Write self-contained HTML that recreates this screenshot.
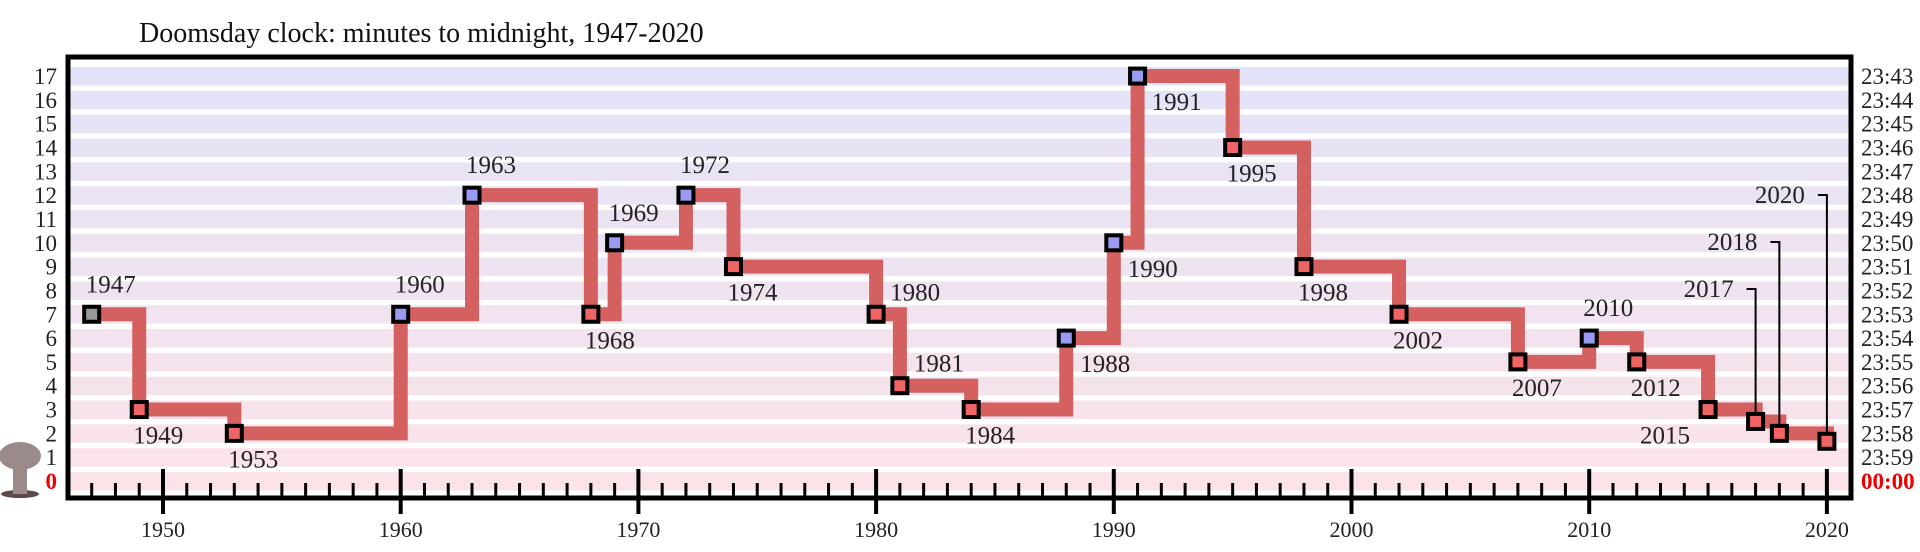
<!DOCTYPE html>
<html><head><meta charset="utf-8"><style>
body{margin:0;background:#fff;}
svg{display:block;font-family:"Liberation Serif",serif;}
</style></head><body>
<svg id="chart" width="1920" height="552" viewBox="0 0 1920 552" xmlns="http://www.w3.org/2000/svg">
<text x="139" y="42" font-size="28" fill="#111">Doomsday clock: minutes to midnight, 1947-2020</text>
<g id="stripes"></g>
<g id="ticks"></g>
<g id="series"></g>
<g id="labels"></g>
<rect x="68" y="57" width="1783" height="441" fill="none" stroke="#000" stroke-width="5"/>
<g>
<ellipse cx="20" cy="494" rx="19" ry="4" fill="#5a4a4a"/>
<rect x="13" y="458" width="14" height="36" fill="#9a8a8a"/>
<ellipse cx="20" cy="456" rx="21" ry="14" fill="#9a8a8a"/>
</g>
</svg>
<script>
const years = [1947,1949,1953,1960,1963,1968,1969,1972,1974,1980,1981,1984,1988,1990,1991,1995,1998,2002,2007,2010,2012,2015,2017,2018,2020];
const minutes = [7,3,2,7,12,7,10,12,9,7,4,3,6,10,17,14,9,7,5,6,5,3,2.5,2,1.667];
const labelPos = ['a','b','b','a','a','b','a','a','b','ar','ar','b','br','br','br','b','b','b','b','a','b','bl','lead','lead','lead'];
const yTicks = [0,1,2,3,4,5,6,7,8,9,10,11,12,13,14,15,16,17];
const timeLabels = ['00:00','23:59','23:58','23:57','23:56','23:55','23:54','23:53','23:52','23:51','23:50','23:49','23:48','23:47','23:46','23:45','23:44','23:43'];
const xMajor = [1950,1960,1970,1980,1990,2000,2010,2020];

const NS='http://www.w3.org/2000/svg';
const X = y => 163 + (y-1950)*23.77;
const Y = v => 481 - v*23.82;
function mk(tag, attrs, parent){const e=document.createElementNS(NS,tag);for(const k in attrs)e.setAttribute(k,attrs[k]);parent.appendChild(e);return e;}
const stripes=document.getElementById('stripes'), ticks=document.getElementById('ticks'), series=document.getElementById('series'), labels=document.getElementById('labels');
const svg=document.getElementById('chart');

yTicks.forEach((v,i)=>{
  const t=v/17;
  const r=Math.round(251+(227-251)*t), g=Math.round(227+(227-227)*t), b=Math.round(232+(248-232)*t);
  const s=mk('rect',{x:70,y:Y(v)-9,width:1779,height:18.5,fill:`rgb(${r},${g},${b})`},stripes);
  
  
  const l=mk('text',{x:57,y:Y(v)+8,'font-size':23,'text-anchor':'end',fill:v===0?'#e00':'#222','font-weight':v===0?'bold':'normal'},svg);
  l.textContent=v;
  
  
  const r2=mk('text',{x:1861,y:Y(v)+8,'font-size':23,fill:v===0?'#e00':'#222','font-weight':v===0?'bold':'normal'},svg);
  r2.textContent=timeLabels[i];
  
  
});

for(let yr=1947; yr<=2020; yr++){
  const major = xMajor.includes(yr);
  const t=mk('line',{x1:X(yr),x2:X(yr),y1:major?469:483,y2:major?514:498,stroke:'#000','stroke-width':major?4:3},ticks);
  
  
}
xMajor.forEach(yr=>{
  const l=mk('text',{x:X(yr),y:537,'font-size':22,'text-anchor':'middle',fill:'#222'},svg);
  l.textContent=yr;
  
  
});

let d='M'+X(years[0])+','+Y(minutes[0]);
for(let i=1;i<years.length;i++){d+=' H'+X(years[i])+' V'+Y(minutes[i]);}
d+=' H'+(X(2020)+2);
const p=mk('path',{d:d,fill:'none',stroke:'#d46060','stroke-width':14,'stroke-linejoin':'miter'},series);



years.forEach((yr,i)=>{
  const cx=X(yr), cy=Y(minutes[i]);
  const fill = i===0?'#999':(minutes[i]>minutes[i-1]?'#9a9af2':'#f06464');
  const m=mk('rect',{x:cx-7.5,y:cy-7.5,width:15,height:15,fill:fill,stroke:'#000','stroke-width':4},series);
  
  
  const pos=labelPos[i];
  let tx=cx-6, ty=cy-22, anchor='start';
  if(pos==='b'){ty=cy+34;}
  else if(pos==='ar'){tx=cx+14;ty=cy-14;}
  else if(pos==='br'){tx=cx+14;ty=cy+34;}
  else if(pos==='bl'){tx=cx-18;ty=cy+34;anchor='end';}
  else if(pos==='lead'){
    const ly={2017:289,2018:242,2020:195}[yr];
    const ln=mk('polyline',{points:`${cx-9},${ly} ${cx},${ly} ${cx},${cy-8}`,fill:'none',stroke:'#000','stroke-width':2},labels);
    
    
    tx=cx-22;ty=ly+8;anchor='end';
  }
  const t=mk('text',{x:tx,y:ty,'font-size':25,'text-anchor':anchor,fill:'#222'},labels);
  t.textContent=yr;
  
  
});
</script>
</body></html>
